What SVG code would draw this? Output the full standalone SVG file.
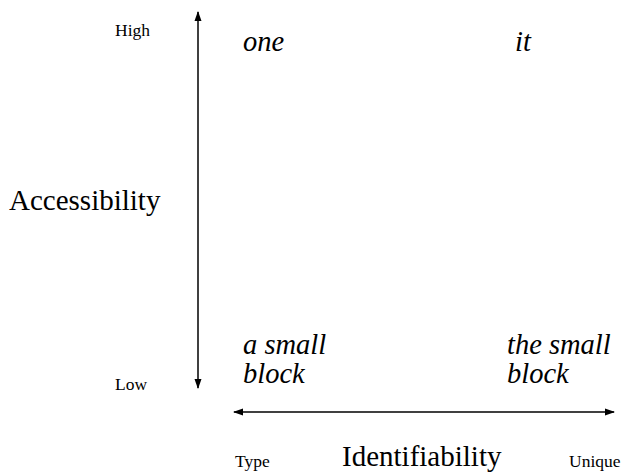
<svg xmlns="http://www.w3.org/2000/svg" width="625" height="472" viewBox="0 0 625 472">
<style>
text{font-family:"Liberation Serif","Times New Roman",serif;fill:#000}
.s{font-size:17.5px}
.b{font-size:29px}
.i{font-size:28.5px;font-style:italic}
.ax{stroke:#000;stroke-width:1.5;fill:none}
</style>
<defs>
<marker id="ah" viewBox="0 0 10 10" refX="9" refY="5" markerWidth="10" markerHeight="10" markerUnits="userSpaceOnUse" orient="auto-start-reverse">
<path d="M0,1.5 L10,5 L0,8.5 Z" fill="#000"/>
</marker>
</defs>
<rect width="625" height="472" fill="#fff"/>
<g id="connectors">
<line class="ax" x1="198" y1="388" x2="198" y2="12" marker-end="url(#ah)" marker-start="url(#ah)"/>
<line class="ax" x1="234" y1="412" x2="614" y2="412" marker-end="url(#ah)" marker-start="url(#ah)"/>
</g>
<g id="labels">
<text class="s" x="115" y="36">High</text>
<text class="s" x="115" y="390">Low</text>
<text class="b" x="9" y="210">Accessibility</text>
<text class="s" x="235" y="467">Type</text>
<text class="b" x="342" y="466">Identifiability</text>
<text class="s" x="569" y="467">Unique</text>
</g>
<g id="one"><text class="i" x="243" y="51">one</text></g>
<g id="it"><text class="i" x="515" y="51">it</text></g>
<g id="a-small-block"><text class="i" x="243" y="354">a small</text><text class="i" x="243" y="383">block</text></g>
<g id="the-small-block"><text class="i" x="507" y="354">the small</text><text class="i" x="507" y="383">block</text></g>
</svg>
